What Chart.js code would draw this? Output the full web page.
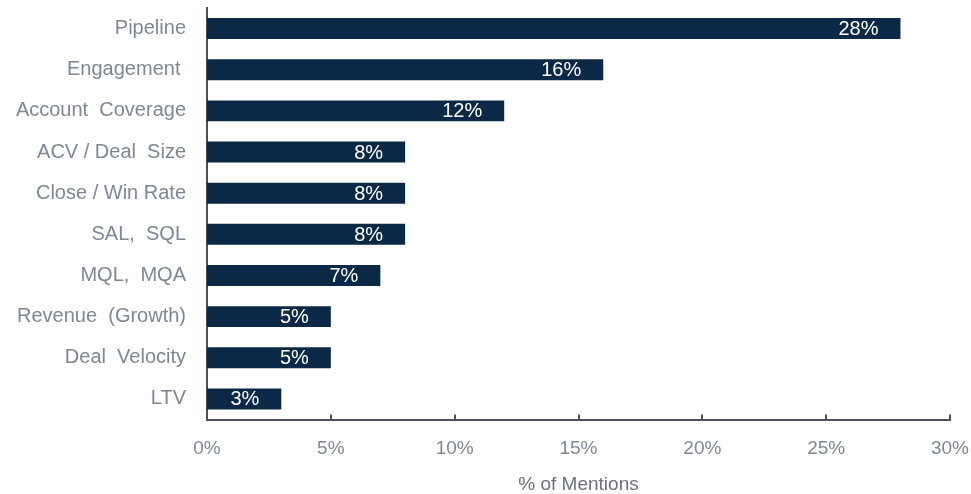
<!DOCTYPE html>
<html>
<head>
<meta charset="utf-8">
<title>% of Mentions</title>
<script src="https://cdn.jsdelivr.net/npm/chart.js@4.4.1/dist/chart.umd.min.js"></script>
<style>
    html, body { margin: 0; padding: 0; background: #fff; }
    canvas { display: block; }
</style>
</head>
<body>
<canvas id="mentionsChart" width="971" height="494"></canvas>
<script>
/* Share of mentions by metric */
const categories = [
    'Pipeline',
    'Engagement ',
    'Account  Coverage',
    'ACV / Deal  Size',
    'Close / Win Rate',
    'SAL,  SQL',
    'MQL,  MQA',
    'Revenue  (Growth)',
    'Deal  Velocity',
    'LTV'
];
const mentions = [28, 16, 12, 8, 8, 8, 7, 5, 5, 3];
const xTicks = [0, 5, 10, 15, 20, 25, 30];

const FONT = "'Liberation Sans', Arial, sans-serif";
const AXIS = '#4b505c';
const LABEL = '#7f8796';
const BAR = '#0b2947';

// keep the plot box fixed: no extra room for overhanging tick labels
const noEdgePadding = s => {
    s.paddingTop = 0;
    s.paddingBottom = 0;
    s.paddingLeft = 0;
    s.paddingRight = 0;
};

/* ── value labels inside the bar end ───────────────── */
const barValueLabels = {
    id: 'barValueLabels',
    afterDatasetsDraw(chart) {
        const ctx = chart.ctx;
        const meta = chart.getDatasetMeta(0);
        ctx.save();
        ctx.font = '20px ' + FONT;
        ctx.fillStyle = '#ffffff';
        ctx.textAlign = 'right';
        ctx.textBaseline = 'middle';
        meta.data.forEach((bar, i) => {
            ctx.fillText(mentions[i] + '%', bar.x - 22, bar.y + 1);
        });
        ctx.restore();
    }
};

/* ── small tick marks pointing up from the x axis ──── */
const innerTicks = {
    id: 'innerTicks',
    afterDraw(chart) {
        const ctx = chart.ctx;
        const x = chart.scales.x;
        const bottom = chart.chartArea.bottom;
        ctx.save();
        ctx.strokeStyle = AXIS;
        ctx.lineWidth = 2;
        xTicks.forEach(v => {
            const px = Math.round(x.getPixelForValue(v));
            ctx.beginPath();
            ctx.moveTo(px, bottom);
            ctx.lineTo(px, bottom - 5);
            ctx.stroke();
        });
        ctx.restore();
    }
};

new Chart(document.getElementById('mentionsChart'), {
    type: 'bar',
    data: {
        labels: categories,
        datasets: [{
            label: '% of Mentions',
            data: mentions,
            backgroundColor: BAR,
            borderWidth: 0,
            categoryPercentage: 1,
            barPercentage: 0.51
        }]
    },
    options: {
        indexAxis: 'y',
        responsive: false,
        animation: false,
        layout: { padding: { top: 8, right: 21, left: 0, bottom: 0 } },
        plugins: {
            legend: { display: false },
            tooltip: { enabled: false }
        },
        scales: {
            x: {
                min: 0,
                max: 30,
                afterBuildTicks: s => { s.ticks = xTicks.map(v => ({ value: v })); },
                afterFit: s => { s.height = 74.5; noEdgePadding(s); },
                grid: { display: false, drawTicks: false },
                border: { color: AXIS, width: 2 },
                ticks: {
                    color: LABEL,
                    font: { family: FONT, size: 19 },
                    padding: 18,
                    maxRotation: 0,
                    callback: v => v + '%'
                },
                title: {
                    display: true,
                    text: '% of Mentions',
                    color: '#6c717b',
                    font: { family: FONT, size: 19 },
                    padding: { top: 0, bottom: -2 }
                }
            },
            y: {
                afterFit: s => { s.width = 207; noEdgePadding(s); },
                grid: { display: false, drawTicks: false },
                border: { color: AXIS, width: 2 },
                ticks: {
                    color: LABEL,
                    font: { family: FONT, size: 20 },
                    padding: 21
                }
            }
        }
    },
    plugins: [barValueLabels, innerTicks]
});
</script>
</body>
</html>
